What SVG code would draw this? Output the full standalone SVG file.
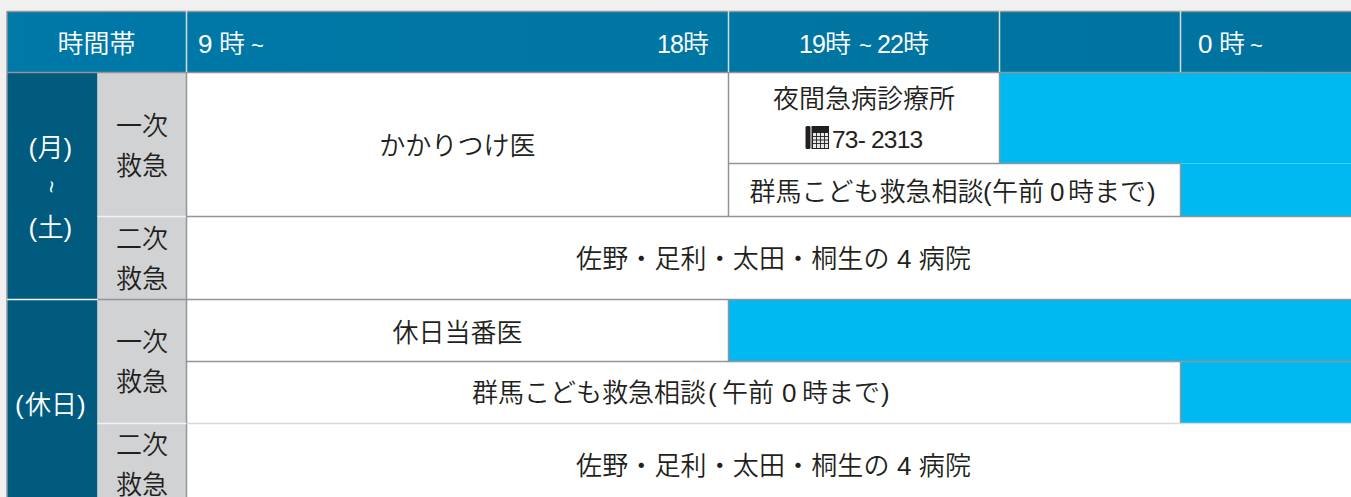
<svg xmlns="http://www.w3.org/2000/svg" width="1351" height="497" viewBox="0 0 1351 497">
<style>
text{font-family:"Liberation Sans","Noto Sans CJK JP",sans-serif;font-size:26px;font-weight:350;fill:#231f20;text-anchor:middle}
.w{fill:#fff}
.l{text-anchor:start}
.d{letter-spacing:-1px;font-size:25px}
.g{stroke:#939598;stroke-width:1.5;fill:none}
.h{stroke:#d8dadc;stroke-width:1.5;fill:none}
.e{stroke:#f1f2f2;stroke-width:1.5;fill:none}
</style>
<defs><linearGradient id="hd" x1="0" x2="1" y1="0" y2="0"><stop offset="0" stop-color="#0079a8"/><stop offset="1" stop-color="#00739f"/></linearGradient></defs>
<rect width="1351" height="497" fill="#f0f0f0"/>
<rect x="7" y="11" width="1344" height="486" fill="#fff"/>
<g id="header">
<rect x="7" y="11" width="1344" height="61.500" fill="url(#hd)"/>
<text class="w" x="96.500" y="53">時間帯</text>
<text class="w l" x="198" y="53">9<tspan x="219">時</tspan><tspan x="251" font-size="22">~</tspan></text>
<text class="w l" x="657" y="53"><tspan class="d">18</tspan><tspan x="683">時</tspan></text>
<text class="w l" x="799" y="53"><tspan class="d">19</tspan><tspan x="825">時</tspan><tspan x="859" font-size="22">~</tspan><tspan class="d" x="877">22</tspan><tspan x="903">時</tspan></text>
<text class="w l" x="1198" y="53">0<tspan x="1219">時</tspan><tspan x="1250" font-size="22">~</tspan></text>
</g>
<g id="day-weekday">
<rect x="7" y="72.500" width="90.500" height="227" fill="#005b7f"/>
<text class="w l" x="28.500" y="157">(<tspan x="37.500">月</tspan><tspan x="63.500">)</tspan></text>
<text class="w" transform="translate(50.500 187) rotate(90)" y="7" style="font-size:22px">~</text>
<text class="w l" x="28.500" y="237">(<tspan x="37.500">土</tspan><tspan x="63.500">)</tspan></text>
</g>
<g id="day-holiday">
<rect x="7" y="299.500" width="90.500" height="197.500" fill="#005b7f"/>
<text class="w l" x="15" y="414">(<tspan x="25">休日</tspan><tspan x="77">)</tspan></text>
</g>
<g id="level-cells">
<rect x="97.500" y="72.500" width="89" height="424.500" fill="#d1d2d4"/>
<text x="142" y="135">一次</text>
<text x="142" y="175">救急</text>
<text x="142" y="248">二次</text>
<text x="142" y="288">救急</text>
<text x="142" y="351">一次</text>
<text x="142" y="391">救急</text>
<text x="142" y="454">二次</text>
<text x="142" y="494">救急</text>
</g>
<g id="blue-cells" fill="#00b9f1">
<rect x="999.500" y="72.500" width="351.500" height="91"/>
<rect x="1180.500" y="163.500" width="170.500" height="53"/>
<rect x="728.500" y="299.500" width="622.500" height="62"/>
<rect x="1180.500" y="361.500" width="170.500" height="62"/>
</g>
<g id="connectors">
<path class="g" d="M7 11.500H1351M7 72.500H1351M7 11V497"/>
<path class="h" d="M186.500 11V72M728.500 11V72M999.500 11V72M1180.500 11V72"/>
<path class="g" d="M186.500 72.500V497M728.500 72.500V216.500M999.500 72.500V163.500M1180.500 163.500V216.500M728.500 163.500H1180.500M186.500 216.500H1351M97.500 299.500H1351M186.500 361.500H1351M728.500 299.500V361.500M1180.500 361.500V423.500"/>
<path class="e" d="M97.500 216.500H186M7 299.500H97.500M97.500 423.500H186"/>
<path class="h" d="M186.500 423.500H1351"/>
</g>
<g id="cell-family"><text x="457.500" y="155">かかりつけ医</text></g>
<g id="cell-night">
<text x="864" y="108">夜間急病診療所</text>
<text class="l" x="832" y="148" style="font-size:24.500px;letter-spacing:-.8px">73- 2313</text>
<g id="phone-icon">
<rect x="805.500" y="126" width="5" height="23" rx="1.500" fill="#231f20"/>
<rect x="811.500" y="126" width="17.500" height="23" fill="#231f20"/>
<rect x="813" y="133" width="15" height="15" fill="#e6e7e8"/>
<path d="M813 136.500H828M813 140H828M813 143.500H828M816.500 133V148M820.500 133V148M824.500 133V148" stroke="#231f20" stroke-width=".9" fill="none"/>
</g>
</g>
<g id="cell-consult"><text class="l" x="749.500" y="201">群馬こども救急相談<tspan x="983">(</tspan><tspan x="992">午前</tspan><tspan x="1050">0</tspan><tspan x="1068">時まで</tspan><tspan x="1147">)</tspan></text></g>
<g id="cell-hospitals"><text x="773.500" y="268" textLength="395">佐野・足利・太田・桐生の 4 病院</text></g>
<g id="cell-holiday"><text x="457.500" y="342">休日当番医</text></g>
<g id="cell-consult-2"><text class="l" x="472" y="402">群馬こども救急相談<tspan x="708">(</tspan><tspan x="722">午前</tspan><tspan x="782">0</tspan><tspan x="802">時まで</tspan><tspan x="881">)</tspan></text></g>
<g id="cell-hospitals-2"><text x="773.500" y="475" textLength="395">佐野・足利・太田・桐生の 4 病院</text></g>
</svg>
